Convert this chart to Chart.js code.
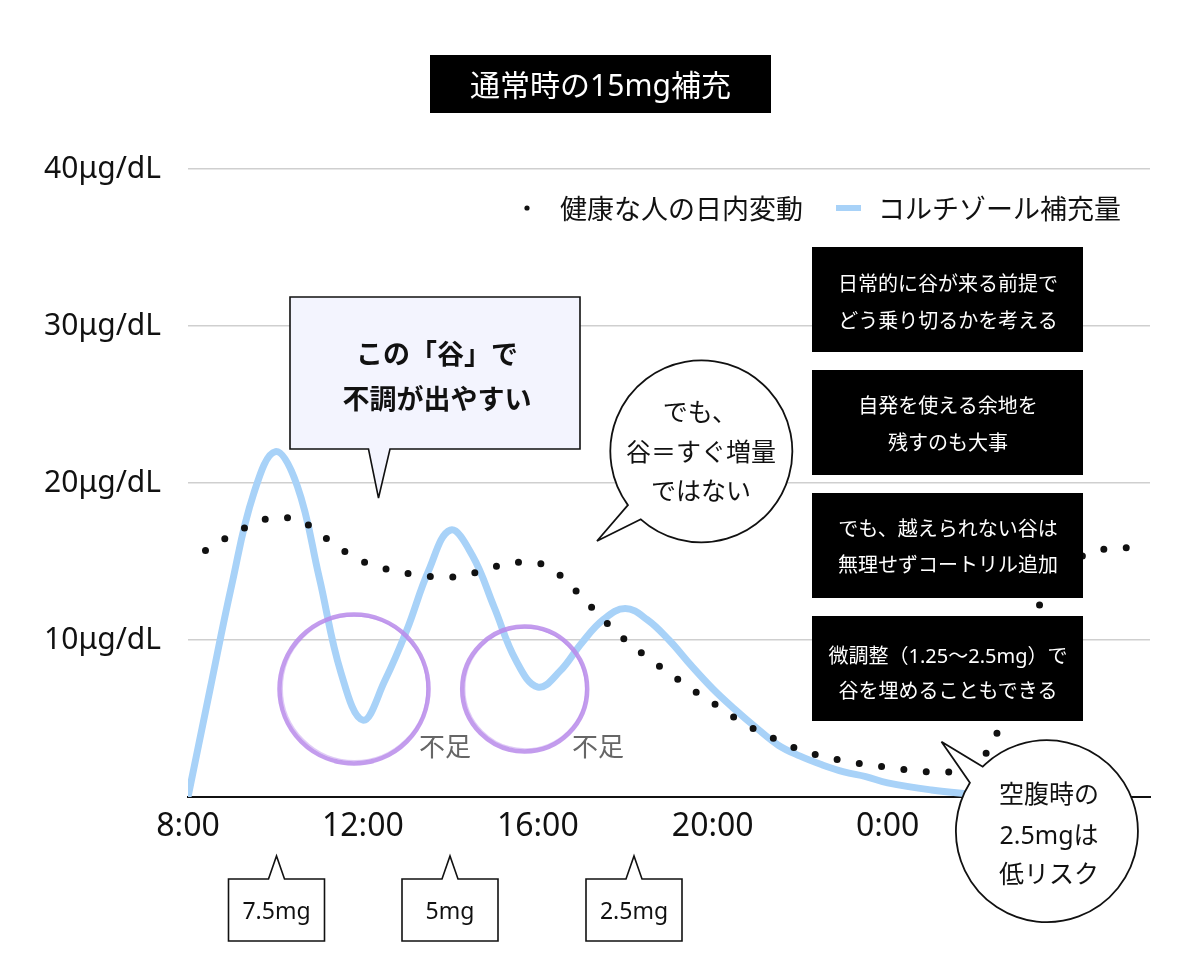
<!DOCTYPE html>
<html lang="ja">
<head>
<meta charset="utf-8">
<title>通常時の15mg補充</title>
<script src="https://cdn.jsdelivr.net/npm/chart.js@4.4.1/dist/chart.umd.min.js"></script>
<style>
    html, body { margin: 0; padding: 0; background: #fff; }
    #wrap { position: relative; width: 1200px; height: 966px; }
    #chart { position: absolute; left: 0; top: 0; }
    #notes { position: absolute; left: 0; top: 0; pointer-events: none; }
    #notes text {
        font-family: "Noto Sans", "Noto Sans CJK JP", sans-serif;
        dominant-baseline: central;
        text-anchor: middle;
    }
</style>
</head>
<body>
<div id="wrap">
    <canvas id="chart" width="1200" height="966"></canvas>
    <svg id="notes" width="1200" height="966" viewBox="0 0 1200 966">
        <!-- title -->
        <rect x="430" y="55" width="341" height="58" fill="#000"/>
        <text x="600.5" y="84" font-size="30" fill="#fff">通常時の15mg補充</text>

        <!-- legend -->
        <circle cx="527" cy="208" r="2.6" fill="#111"/>
        <text x="560" y="208" font-size="27" fill="#111" style="text-anchor:start">健康な人の日内変動</text>
        <line x1="836" y1="208" x2="861" y2="208" stroke="#A8D2F8" stroke-width="6"/>
        <text x="878" y="208" font-size="27" fill="#111" style="text-anchor:start">コルチゾール補充量</text>

        <!-- purple circles -->
        <g fill="none" stroke="#B98BEA">
            <circle cx="354" cy="689" r="74.5" stroke-width="4.5" opacity="0.85"/>
            <circle cx="354.6" cy="688.4" r="72.4" stroke-width="1.5" opacity="0.45"/>
            <circle cx="524.7" cy="689" r="62.5" stroke-width="4.5" opacity="0.85"/>
            <circle cx="525.2" cy="688.4" r="60.5" stroke-width="1.5" opacity="0.45"/>
        </g>
        <text x="445" y="746" font-size="26" fill="#666">不足</text>
        <text x="598" y="746" font-size="26" fill="#666">不足</text>

        <!-- box: この「谷」で -->
        <path d="M290,297 H580 V449 H390 L378.5,498 L368.5,449 H290 Z" fill="#F3F4FE" stroke="#111" stroke-width="1.6"/>
        <text x="437" y="353" font-size="27" font-weight="bold" fill="#111">この「谷」で</text>
        <text x="437" y="398" font-size="27" font-weight="bold" fill="#111">不調が出やすい</text>

        <!-- round bubble: でも、谷＝すぐ増量ではない -->
        <path d="M627.9,505.1 L597,541 L640.8,519.3 A91,91 0 1 0 627.9,505.1 Z" fill="#fff" stroke="#111" stroke-width="1.8"/>
        <text x="700" y="411" font-size="25" fill="#111">でも、</text>
        <text x="701" y="451" font-size="25" fill="#111">谷＝すぐ増量</text>
        <text x="701" y="490" font-size="25" fill="#111">ではない</text>

        <!-- black boxes -->
        <g fill="#000">
            <rect x="812" y="247" width="271" height="105"/>
            <rect x="812" y="370" width="271" height="105"/>
            <rect x="812" y="493" width="271" height="105"/>
            <rect x="812" y="616" width="271" height="105"/>
        </g>
        <g font-size="20" fill="#fff">
            <text x="948" y="283.5">日常的に谷が来る前提で</text>
            <text x="948" y="320">どう乗り切るかを考える</text>
            <text x="948" y="405">自発を使える余地を</text>
            <text x="948" y="442">残すのも大事</text>
            <text x="948" y="528">でも、越えられない谷は</text>
            <text x="948" y="564">無理せずコートリル追加</text>
            <text x="948" y="655">微調整（1.25〜2.5mg）で</text>
            <text x="948" y="690">谷を埋めることもできる</text>
        </g>

        <!-- round bubble: 空腹時の2.5mgは低リスク -->
        <path d="M969.9,782.7 L941.5,741.7 L982.7,766.7 A91,91 0 1 1 969.9,782.7 Z" fill="#fff" stroke="#111" stroke-width="1.8"/>
        <text x="1049" y="793" font-size="25" fill="#111">空腹時の</text>
        <text x="1049" y="834" font-size="25" fill="#111">2.5mgは</text>
        <text x="1049" y="873" font-size="25" fill="#111">低リスク</text>

        <!-- dose callouts -->
        <g fill="#fff" stroke="#111" stroke-width="1.6">
            <path d="M228.5,879 H268.5 L276.5,856 L284.5,879 H324.5 V941 H228.5 Z"/>
            <path d="M402,879 H442 L450,856 L458,879 H498 V941 H402 Z"/>
            <path d="M586,879 H626 L634,856 L642,879 H682 V941 H586 Z"/>
        </g>
        <text x="276.5" y="910" font-size="23" fill="#111">7.5mg</text>
        <text x="450" y="910" font-size="23" fill="#111">5mg</text>
        <text x="634" y="910" font-size="23" fill="#111">2.5mg</text>
    </svg>
</div>
<script>
// 健康な人の日内変動 (時刻 / μg/dL)
const healthyHours = [8.4, 9, 9.5, 10, 10.5, 11, 11.5, 12, 12.5, 13, 13.5, 14, 14.5, 15, 15.5, 16,
    16.5, 17, 17.5, 18, 18.5, 19, 19.5, 20, 20.5, 21, 21.5, 22, 22.5, 23, 24, 25, 25.6,
    26, 26.3, 26.6, 27, 27.5, 28, 28.5, 29, 29.7];
const healthyValues = [15.7, 16.7, 17.4, 17.8, 17.7, 16.8, 15.8, 15.0, 14.55, 14.25, 14.05, 14.0, 14.25, 14.65, 14.95, 14.9,
    14.15, 12.75, 11.3, 10.0, 8.9, 7.9, 6.9, 6.0, 5.05, 4.25, 3.6, 3.0, 2.6, 2.3, 1.9, 1.6, 1.6,
    1.95, 3.0, 4.7, 8.0, 12.4, 14.6, 15.4, 15.8, 15.9];

// コルチゾール補充量
const doseHours = [8, 8.5, 9, 9.5, 10, 10.5, 11, 11.5, 12, 12.5, 13, 13.5, 14, 14.5, 15, 15.5, 16,
    16.5, 17, 17.5, 18, 18.5, 19, 19.5, 20, 20.5, 21, 21.5, 22, 22.5, 23, 23.5, 24, 25, 26];
const doseValues = [0, 6.8, 13.5, 19.3, 22, 19.8, 14.0, 7.9, 4.9, 7.4, 10.6, 14.4, 17, 15.4, 12.1, 8.7, 7.0,
    8.0, 9.8, 11.3, 12, 11.3, 10, 8.4, 6.9, 5.6, 4.4, 3.3, 2.6, 2.05, 1.6, 1.3, 0.9, 0.45, 0.15];

const xTickHours = [8, 12, 16, 20, 24, 28];
const xTickLabels = ['8:00', '12:00', '16:00', '20:00', '0:00', '4:00'];
const yTickValues = [10, 20, 30, 40];
const yTickLabels = ['10μg/dL', '20μg/dL', '30μg/dL', '40μg/dL'];

const FONT = '"Noto Sans", "Noto Sans CJK JP", sans-serif';

const toPoints = (xs, ys) => xs.map((x, i) => ({ x: x, y: ys[i] }));

new Chart(document.getElementById('chart'), {
    type: 'line',
    data: {
        datasets: [{
            label: '健康な人の日内変動',
            data: toPoints(healthyHours, healthyValues),
            borderColor: '#111',
            borderWidth: 7,
            borderDash: [0, 22.5],
            borderCapStyle: 'round',
            pointRadius: 0,
            cubicInterpolationMode: 'monotone'
        }, {
            label: 'コルチゾール補充量',
            data: toPoints(doseHours, doseValues),
            borderColor: '#A8D2F8',
            borderWidth: 7,
            borderCapStyle: 'round',
            borderJoinStyle: 'round',
            pointRadius: 0,
            tension: 0.4
        }]
    },
    options: {
        responsive: false,
        animation: false,
        devicePixelRatio: 1,
        layout: {
            padding: { top: 169, right: 50, left: 0, bottom: 0 }
        },
        plugins: {
            legend: { display: false },
            tooltip: { enabled: false }
        },
        scales: {
            x: {
                type: 'linear',
                min: 8,
                max: 30,
                afterFit: (scale) => { scale.height = 169; },
                afterBuildTicks: (scale) => {
                    scale.ticks = xTickHours.map(v => ({ value: v }));
                },
                grid: { display: false },
                border: { color: '#111', width: 2 },
                ticks: {
                    autoSkip: false,
                    maxRotation: 0,
                    padding: 3,
                    color: '#111',
                    font: { family: FONT, size: 32 },
                    callback: (v) => {
                        let i = xTickHours.indexOf(v);
                        return i < 0 ? '' : xTickLabels[i];
                    }
                }
            },
            y: {
                min: 0,
                max: 40,
                afterFit: (scale) => { scale.width = 188; },
                afterBuildTicks: (scale) => {
                    scale.ticks = [0].concat(yTickValues).map(v => ({ value: v }));
                },
                grid: {
                    color: '#cfcfcf',
                    lineWidth: 1.5,
                    drawTicks: false
                },
                border: { display: false },
                ticks: {
                    padding: 27,
                    color: '#111',
                    font: { family: FONT, size: 30 },
                    callback: (v) => {
                        let i = yTickValues.indexOf(v);
                        return i < 0 ? '' : yTickLabels[i];
                    }
                }
            }
        }
    }
});
</script>
</body>
</html>
